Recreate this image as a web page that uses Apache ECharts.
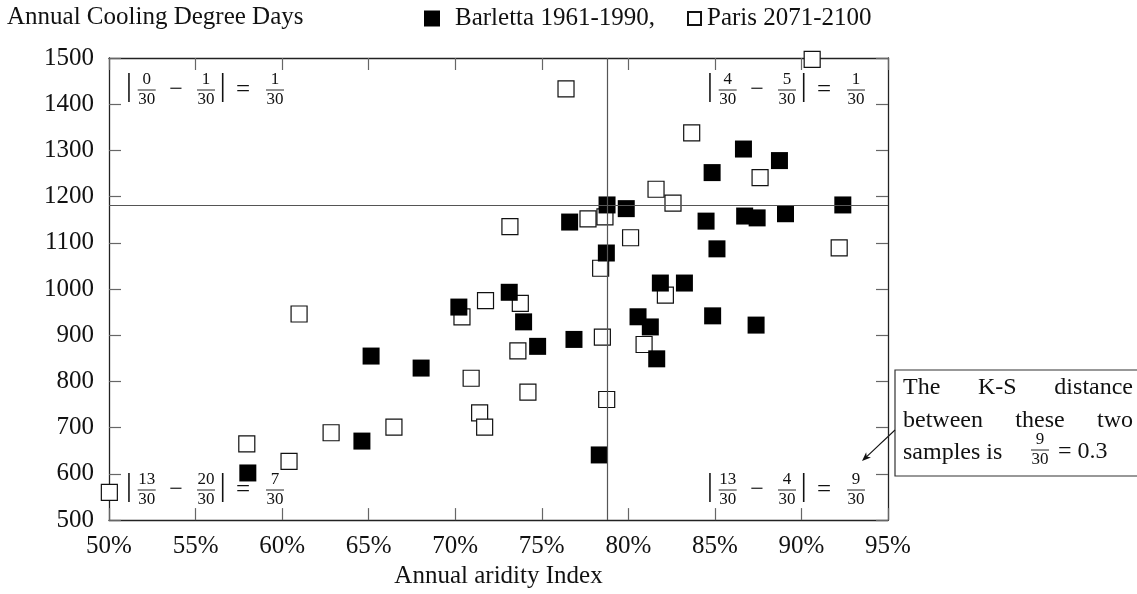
<!DOCTYPE html>
<html>
<head>
<meta charset="utf-8">
<script src="https://cdn.jsdelivr.net/npm/echarts@6/dist/echarts.min.js"></script>
<style>
html, body { margin: 0; padding: 0; background: #fff; }
#main { width: 1137px; height: 594px; }
</style>
</head>
<body>
<div id="main"></div>
<script>
// Barletta 1961-1990 (filled squares)
var barlettaAridity = [86.65, 88.73, 84.84, 78.77, 79.88, 92.39, 76.61, 84.49, 86.72, 87.44,
	89.08, 85.12, 78.73, 81.85, 83.24, 73.12, 73.95, 80.56, 81.27, 84.87,
	87.38, 74.76, 76.86, 81.64, 78.32, 70.21, 65.14, 68.03, 64.61, 58.02];
var barlettaCdd = [1303, 1278, 1252, 1182, 1174, 1182, 1145, 1147, 1158, 1154,
	1163, 1087, 1078, 1013, 1013, 993, 929, 940, 918, 942,
	922, 876, 891, 849, 641, 961, 855, 829, 671, 602];
// Paris 2071-2100 (open squares)
var parisAridity = [90.62, 76.40, 83.66, 87.61, 81.60, 82.58, 78.65, 77.67, 73.16, 80.13,
	92.18, 78.40, 82.14, 73.76, 71.75, 70.39, 60.98, 73.62, 78.50, 80.91,
	74.20, 78.75, 70.92, 71.41, 71.70, 66.46, 62.83, 57.96, 60.40, 50.02];
var parisCdd = [1497, 1433, 1338, 1241, 1216, 1186, 1156, 1152, 1135, 1111,
	1089, 1045, 987, 969, 975, 940, 946, 866, 896, 880,
	777, 761, 807, 732, 701, 701, 689, 665, 627, 560];

// K-S split point and quadrant differences
var splitX = 78.77;
var splitY = 1182;
var quadTL = ['0', '1', '1'];
var quadTR = ['4', '5', '1'];
var quadBL = ['13', '20', '7'];
var quadBR = ['13', '4', '9'];

var xTicks = [50, 95, 5];
var yTicks = [500, 1500, 100];

var FONT = '"Liberation Serif", "Times New Roman", serif';

function pairs(xs, ys) {
	var out = [];
	for (var i = 0; i < xs.length; i++) out.push([xs[i], ys[i]]);
	return out;
}

var gl = 109, gt = 58, gr = 888, gb = 521;

// one |a/30 - b/30| = c/30 expression, x0 = first bar, yl = fraction bar line
function ksExpr(x0, yl, q) {
	var els = [];
	function txt(s, cx, cy, size) {
		els.push({ type: 'text', x: cx, y: cy, silent: true,
			style: { text: s, font: size + 'px ' + FONT, fill: '#111', align: 'center', verticalAlign: 'middle' } });
	}
	function frac(n, d, cx) {
		txt(n, cx, yl - 10, 17);
		txt(d, cx, yl + 10, 17);
		els.push({ type: 'line', silent: true, shape: { x1: cx - 9, y1: yl, x2: cx + 9, y2: yl },
			style: { stroke: '#111', lineWidth: 0.9 } });
	}
	txt('|', x0, yl - 3, 32);
	frac(q[0], '30', x0 + 17.7);
	txt('\u2212', x0 + 47, yl, 24);
	frac(q[1], '30', x0 + 77);
	txt('|', x0 + 93.7, yl - 3, 32);
	txt('=', x0 + 114, yl, 25);
	frac(q[2], '30', x0 + 146);
	return els;
}

var ctx = document.createElement('canvas').getContext('2d');
function tw(s, size) {
	ctx.font = size + 'px ' + FONT;
	return ctx.measureText(s).width;
}

// justified line of words inside the note box
function justify(words, x1, x2, cy) {
	var total = 0;
	words.forEach(function (w) { total += tw(w, 24); });
	var gap = (x2 - x1 - total) / (words.length - 1);
	var x = x1, els = [];
	words.forEach(function (w) {
		els.push({ type: 'text', x: x, y: cy, silent: true,
			style: { text: w, font: '24px ' + FONT, fill: '#111', align: 'left', verticalAlign: 'middle' } });
		x += tw(w, 24) + gap;
	});
	return els;
}

var graphics = [];
graphics = graphics.concat(ksExpr(gl + 20, gt + 32, quadTL));
graphics = graphics.concat(ksExpr(gr - 178, gt + 32, quadTR));
graphics = graphics.concat(ksExpr(gl + 20, gb - 31, quadBL));
graphics = graphics.concat(ksExpr(gr - 178, gb - 31, quadBR));

// note box
graphics.push({ type: 'rect', silent: true, shape: { x: 895, y: 370, width: 260, height: 106 },
	style: { fill: '#fff', stroke: '#333', lineWidth: 1.2 } });
graphics = graphics.concat(justify(['The', 'K-S', 'distance'], 903, 1133, 388));
graphics = graphics.concat(justify(['between', 'these', 'two'], 903, 1133, 421));
graphics.push({ type: 'text', x: 903, y: 453, silent: true,
	style: { text: 'samples is', font: '24px ' + FONT, fill: '#111', align: 'left', verticalAlign: 'middle' } });
graphics.push({ type: 'text', x: 1040, y: 440, silent: true,
	style: { text: '9', font: '17px ' + FONT, fill: '#111', align: 'center', verticalAlign: 'middle' } });
graphics.push({ type: 'text', x: 1040, y: 460, silent: true,
	style: { text: '30', font: '17px ' + FONT, fill: '#111', align: 'center', verticalAlign: 'middle' } });
graphics.push({ type: 'line', silent: true, shape: { x1: 1031, y1: 450, x2: 1049, y2: 450 },
	style: { stroke: '#111', lineWidth: 0.9 } });
graphics.push({ type: 'text', x: 1058, y: 452, silent: true,
	style: { text: '= 0.3', font: '24px ' + FONT, fill: '#111', align: 'left', verticalAlign: 'middle' } });

// arrow from box to the bottom-right quadrant
(function () {
	var x1 = 895, y1 = 430, x2 = 862, y2 = 461;
	var dx = x2 - x1, dy = y2 - y1, len = Math.sqrt(dx * dx + dy * dy);
	var ux = dx / len, uy = dy / len, px = -uy, py = ux;
	var hl = 9, hw = 3.5;
	graphics.push({ type: 'line', silent: true, shape: { x1: x1, y1: y1, x2: x2 - ux * 5, y2: y2 - uy * 5 },
		style: { stroke: '#111', lineWidth: 1.1 } });
	graphics.push({ type: 'polygon', silent: true, shape: { points: [
		[x2, y2],
		[x2 - ux * hl + px * hw, y2 - uy * hl + py * hw],
		[x2 - ux * (hl - 2.5), y2 - uy * (hl - 2.5)],
		[x2 - ux * hl - px * hw, y2 - uy * hl - py * hw]
	] }, style: { fill: '#111' } });
})();

var myChart = echarts.init(document.getElementById('main'), null, { renderer: 'canvas' });

var tickStyle = { show: true, inside: true, length: 12, lineStyle: { color: '#666', width: 1.2 } };
var lineStyle = { show: true, lineStyle: { color: '#222', width: 1.3 } };
var labelStyle = { color: '#111', fontFamily: FONT, fontSize: 25 };

var option = {
	animation: false,
	backgroundColor: '#fff',
	title: {
		text: 'Annual Cooling Degree Days',
		left: 7,
		top: 5,
		padding: 0,
		textStyle: { color: '#111', fontFamily: FONT, fontSize: 25, fontWeight: 'normal' }
	},
	legend: [{
		data: ['Barletta 1961-1990'],
		left: 424,
		top: 6,
		padding: 0,
		icon: 'rect',
		itemWidth: 16,
		itemHeight: 16,
		formatter: function (n) { return n + ','; },
		textStyle: { color: '#111', fontFamily: FONT, fontSize: 25, padding: [0, 0, 0, 10] }
	}, {
		data: ['Paris 2071-2100'],
		left: 687,
		top: 6,
		padding: 0,
		icon: 'rect',
		itemWidth: 13,
		itemHeight: 13,
		textStyle: { color: '#111', fontFamily: FONT, fontSize: 25, padding: [0, 0, 0, 1] }
	}],
	grid: { left: gl, top: gt, right: 1137 - gr, bottom: 594 - gb, containLabel: false },
	xAxis: [{
		type: 'value',
		min: xTicks[0], max: xTicks[1], interval: xTicks[2],
		name: 'Annual aridity Index',
		nameLocation: 'middle',
		nameGap: 39,
		nameTextStyle: labelStyle,
		axisLine: lineStyle,
		axisTick: tickStyle,
		splitLine: { show: false },
		axisLabel: Object.assign({ margin: 14, formatter: '{value}%' }, labelStyle)
	}, {
		type: 'value',
		position: 'top',
		min: xTicks[0], max: xTicks[1], interval: xTicks[2],
		axisLine: lineStyle,
		axisTick: tickStyle,
		splitLine: { show: false },
		axisLabel: { show: false }
	}],
	yAxis: [{
		type: 'value',
		min: yTicks[0], max: yTicks[1], interval: yTicks[2],
		axisLine: lineStyle,
		axisTick: tickStyle,
		splitLine: { show: false },
		axisLabel: Object.assign({ margin: 15, formatter: function (v) { return String(v); } }, labelStyle)
	}, {
		type: 'value',
		position: 'right',
		min: yTicks[0], max: yTicks[1], interval: yTicks[2],
		axisLine: lineStyle,
		axisTick: tickStyle,
		splitLine: { show: false },
		axisLabel: { show: false }
	}],
	series: [{
		name: 'Paris 2071-2100',
		type: 'scatter',
		symbol: 'rect',
		symbolSize: 16,
		clip: false,
		itemStyle: { color: '#fff', borderColor: '#111', borderWidth: 1.2, opacity: 1 },
		data: pairs(parisAridity, parisCdd),
		markLine: {
			silent: true,
			symbol: 'none',
			label: { show: false },
			lineStyle: { color: '#555', width: 1.2, type: 'solid' },
			data: [{ xAxis: splitX }, { yAxis: splitY }]
		}
	}, {
		name: 'Barletta 1961-1990',
		type: 'scatter',
		symbol: 'rect',
		symbolSize: 17,
		clip: false,
		itemStyle: { color: '#000', opacity: 1 },
		data: pairs(barlettaAridity, barlettaCdd)
	}],
	graphic: graphics
};

myChart.setOption(option);

window.addEventListener('resize', function () {
	myChart.resize();
});
</script>
</body>
</html>
